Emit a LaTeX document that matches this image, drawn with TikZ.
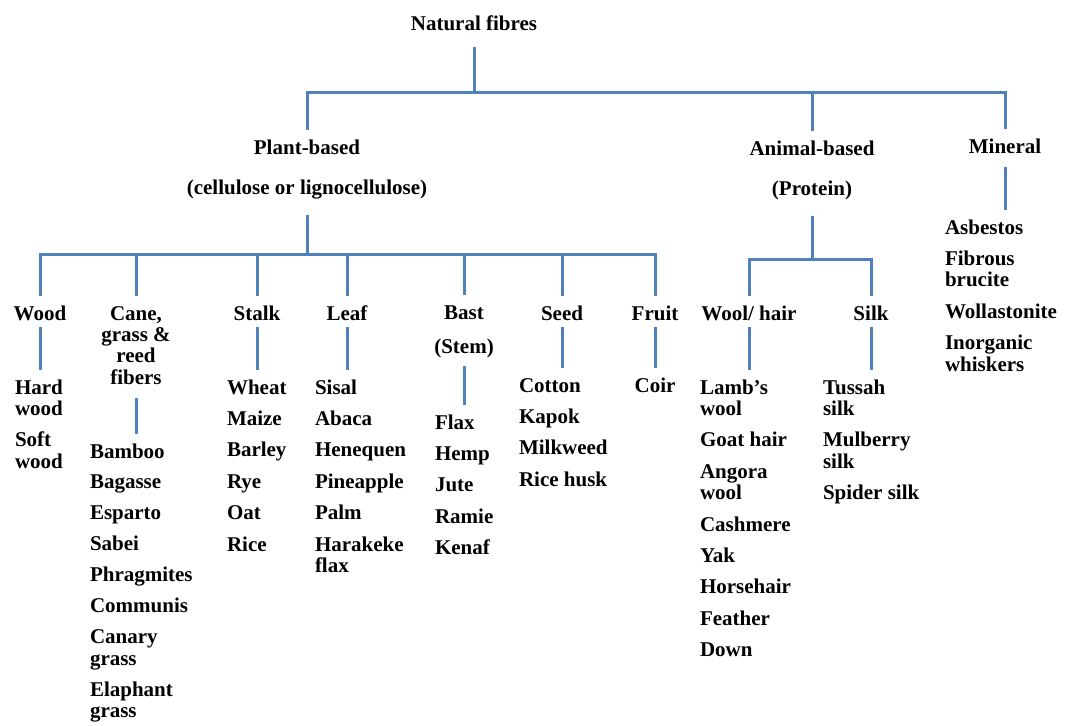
\documentclass[tikz,border=0pt]{standalone}
\usepackage{fontspec}
\setmainfont{Liberation Serif}
\definecolor{lineblue}{RGB}{79,129,189}
\newcommand\colL[1]{\begin{tabular}[t]{@{}l@{}}#1\end{tabular}}
\newcommand\colC[1]{\begin{tabular}[t]{@{}c@{}}#1\end{tabular}}
\newcommand\nx{\\[7.45pt]}
\newcommand\nxs{\\[7.1pt]}
\begin{document}
\begin{tikzpicture}[x=0.75pt,y=-0.75pt,
  txt/.style={inner sep=0pt, outer sep=0pt, font=\fontsize{15.75}{16.1}\selectfont\bfseries, text=black},
  head/.style={txt, anchor=base},
  lst/.style={txt, anchor=base west},
  wire/.style={draw=lineblue, line width=2.25pt},
  down/.style={wire, shorten <=5pt},
  up/.style={wire, shorten >=7pt},
  conn/.style={wire, shorten <=5pt, shorten >=7pt}]
\useasboundingbox (0,0) rectangle (1066,725);
\fill[white] (0,0) rectangle (1066,725);

% level 0 and 1
\node[head] (root) at (474,30) {Natural fibres};
\node[head] (plant) at (307,154) {\colC{Plant-based\\[14.6pt](cellulose or lignocellulose)}};
\node[head] (animal) at (812,155) {\colC{Animal-based\\[14.6pt](Protein)}};
\node[head] (mineral) at (1005,153) {Mineral};

% plant categories
\node[head] (wood) at (40,320) {Wood};
\node[head] (cane) at (136,320) {\colC{Cane,\\grass \&\\reed\\fibers}};
\node[head] (stalk) at (257,320) {Stalk};
\node[head] (leaf) at (347,320) {Leaf};
\node[head] (bast) at (464,319) {\colC{Bast\\[9.4pt](Stem)}};
\node[head] (seed) at (562,320) {Seed};
\node[head] (fruit) at (655,320) {Fruit};

% animal categories
\node[head] (wool) at (749,320) {Wool/ hair};
\node[head] (silk) at (871,320) {Silk};

% lists
\node[lst] (woodlist) at (15,394) {\colL{Hard\\wood\nx Soft\\wood}};
\node[lst] (canelist) at (90,458) {\colL{Bamboo\nxs Bagasse\nxs Esparto\nxs Sabei\nxs Phragmites\nxs Communis\nxs Canary\\grass\nxs Elaphant\\grass}};
\node[lst] (stalklist) at (227,394) {\colL{Wheat\nx Maize\nx Barley\nx Rye\nx Oat\nx Rice}};
\node[lst] (leaflist) at (315,394) {\colL{Sisal\nx Abaca\nx Henequen\nx Pineapple\nx Palm\nx Harakeke\\flax}};
\node[lst] (bastlist) at (435,429) {\colL{Flax\nx Hemp\nx Jute\nx Ramie\nx Kenaf}};
\node[lst] (seedlist) at (519,392) {\colL{Cotton\nx Kapok\nx Milkweed\nx Rice husk}};
\node[head] (fruitlist) at (655,392) {Coir};
\node[lst] (woollist) at (700,394) {\colL{Lamb’s\\wool\nx Goat hair\nx Angora\\wool\nx Cashmere\nx Yak\nx Horsehair\nx Feather\nx Down}};
\node[lst] (silklist) at (823,394) {\colL{Tussah\\silk\nx Mulberry\\silk\nx Spider silk}};
\node[lst] (minlist) at (945,234) {\colL{Asbestos\nx Fibrous\\brucite\nx Wollastonite\nx Inorganic\\whiskers}};

% junctions
\coordinate (j0) at (474,92);
\coordinate (j1) at (307,254);
\coordinate (j2) at (812,259);

% root level
\draw[down, shorten <=12.5pt] (root.south) -- (j0);
\draw[up] (j0) -| (plant.north);
\draw[up] (j0) -| (mineral.north);
\draw[up] (j0 -| animal) -- (animal.north);

% plant level
\draw[down, shorten <=10pt] (plant.south) -- (j1);
\draw[up] (j1) -| (wood.north);
\draw[up] (j1) -| (fruit.north);
\foreach \n in {cane,stalk,leaf,bast,seed}
  \draw[up] (j1 -| \n) -- (\n.north);

% animal level
\draw[down, shorten <=10pt] (animal.south) -- (j2);
\draw[up] (j2) -| (wool.north);
\draw[up] (j2) -| (silk.north);

% category to list
\draw[conn] (wood.south) -- (wood |- woodlist.north);
\draw[conn] (cane.south) -- (cane |- canelist.north);
\draw[conn] (stalk.south) -- (stalk |- stalklist.north);
\draw[conn] (leaf.south) -- (leaf |- leaflist.north);
\draw[conn] (bast.south) -- (bast |- bastlist.north);
\draw[conn] (seed.south) -- (seed |- seedlist.north);
\draw[conn] (fruit.south) -- (fruitlist.north);
\draw[conn] (wool.south) -- (wool |- woollist.north);
\draw[conn] (silk.south) -- (silk |- silklist.north);
\draw[conn, shorten <=10pt] (mineral.south) -- (mineral |- minlist.north);
\end{tikzpicture}
\end{document}
